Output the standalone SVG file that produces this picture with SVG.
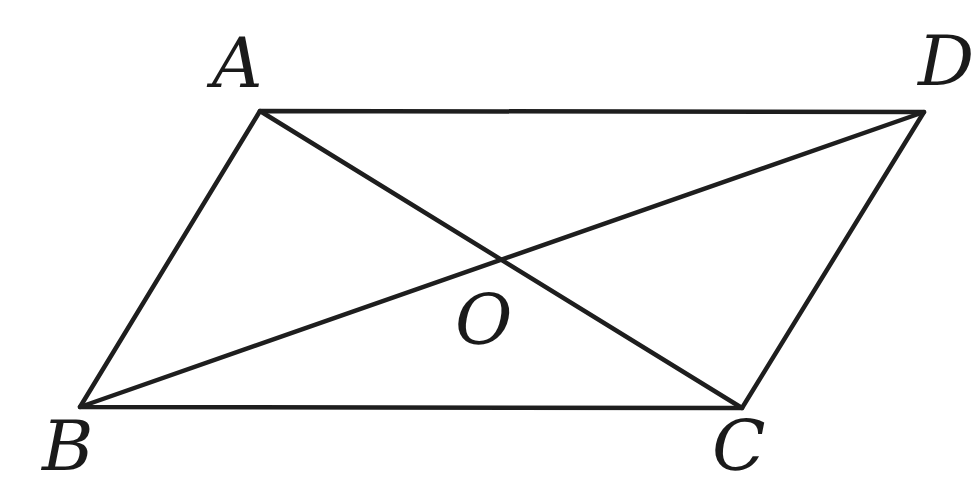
<svg xmlns="http://www.w3.org/2000/svg" width="974" height="486" viewBox="0 0 974 486">
<style>
.e{stroke:#1e1e1e;stroke-width:4.5;fill:none;stroke-linecap:round;stroke-linejoin:round}
.l{font-family:"DejaVu Serif","Liberation Serif",serif;font-style:italic;font-size:70px;fill:#1a1a1a}
</style>
<rect width="974" height="486" fill="#fff"/>
<g id="edges">
<polygon class="e" points="260,111 924,112 742,408 80,407"/>
<line class="e" x1="260" y1="111" x2="742" y2="408"/>
<line class="e" x1="924" y1="112" x2="80" y2="407"/>
</g>
<g id="A"><text class="l" x="212" y="87">A</text></g>
<g id="D"><text class="l" x="918" y="85">D</text></g>
<g id="B"><text class="l" x="42" y="470">B</text></g>
<g id="C"><text class="l" x="712" y="470">C</text></g>
<g id="O"><text class="l" x="455" y="344">O</text></g>
</svg>
